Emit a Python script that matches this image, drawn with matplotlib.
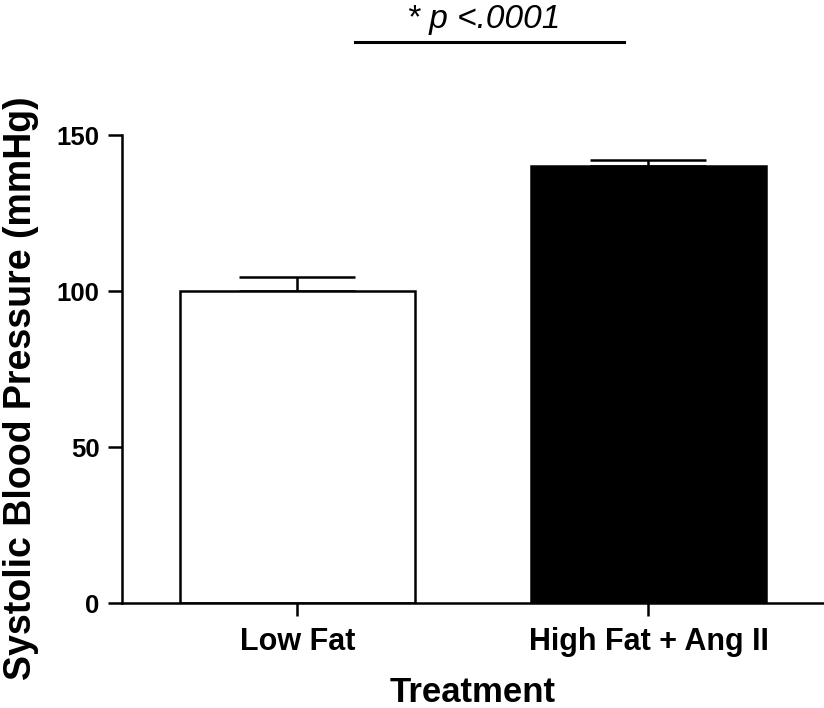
import matplotlib
matplotlib.use('Agg')
from matplotlib import pyplot as plt
import numpy as np

# data
groups = ["Low Fat", "High Fat + Ang II"]
means = [100, 140]
sem = [4.7, 2.0]
colors = ["white", "black"]
sig_text = "* p <.0001"

plt.rcParams['font.family'] = ['Liberation Sans', 'DejaVu Sans']

fig = plt.figure(figsize=(8.24, 7.08), dpi=100)
ax = fig.add_axes([0.148, 0.148, 0.852, 0.661])

x = np.arange(len(groups))
ax.bar(x, means, width=0.667, color=colors, edgecolor='black', linewidth=1.8, zorder=2)
ax.errorbar(x, means, yerr=[np.zeros(len(sem)), sem], fmt='none', ecolor='black',
            elinewidth=1.8, capsize=42, capthick=1.8, zorder=1)

ax.set_xlim(-0.5, 1.5)
ax.set_ylim(0, 150)
ax.set_yticks([0, 50, 100, 150])
ax.set_xticks(x)
ax.set_xticklabels(groups, fontsize=22, fontweight='bold')
for lab in ax.get_yticklabels():
    lab.set_fontsize(18.5)
    lab.set_fontweight('bold')

ax.spines['top'].set_visible(False)
ax.spines['right'].set_visible(False)
ax.spines['left'].set_linewidth(1.8)
ax.spines['bottom'].set_linewidth(1.8)
ax.tick_params(axis='y', length=10, width=1.8, pad=6)
ax.tick_params(axis='x', length=9, width=1.8, pad=8)

ax.set_ylabel("Systolic Blood Pressure (mmHg)", fontsize=27, fontweight='bold')
ax.yaxis.set_label_coords(-0.118, 0.46)
ax.set_xlabel("Treatment", fontsize=25, fontweight='bold', labelpad=14)

# significance bar above the plot
ax.plot([0.165, 0.93], [180, 180], color='black', linewidth=2.2, clip_on=False)
ax.text(0.53, 187, sig_text, fontsize=24, style='italic', ha='center', va='center', clip_on=False)

plt.savefig("out.png", dpi=100)
